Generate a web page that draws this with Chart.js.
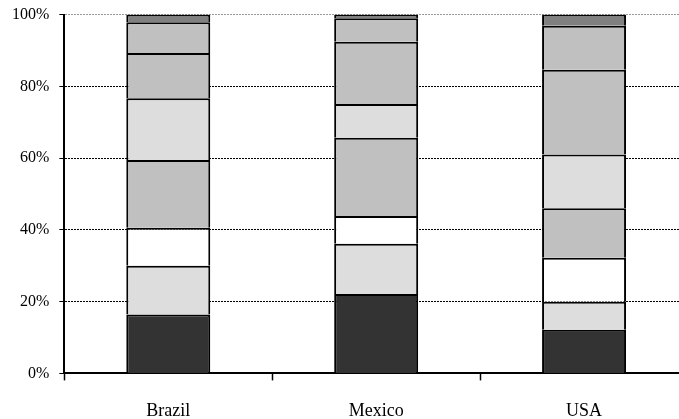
<!DOCTYPE html>
<html>
<head>
    <title>Stacked shares</title>
    <script src="https://cdn.jsdelivr.net/npm/chart.js"></script>
    <style>
        html, body { margin: 0; padding: 0; overflow: hidden; background: #fff; }
        #wrap { width: 700px; height: 447px; margin-top: -5px; position: relative; }
    </style>
</head>
<body>
    <div id="wrap">
        <canvas id="chart"></canvas>
    </div>

    <script>
        // Categories and segment shares (percent, bottom to top)
        const countries = ['Brazil', 'Mexico', 'USA'];
        const seg1 = [16.4, 22.1, 12.2];
        const seg2 = [13.6, 14.0, 7.8];
        const seg3 = [10.6, 7.8, 12.2];
        const seg4 = [18.9, 21.8, 13.8];
        const seg5 = [17.2, 9.4, 15.0];
        const seg6 = [12.6, 17.3, 23.6];
        const seg7 = [8.6, 6.6, 12.3];
        const seg8 = [2.1, 1.0, 3.1];
        const yTicks = [0, 20, 40, 60, 80, 100];

        const segments = [seg1, seg2, seg3, seg4, seg5, seg6, seg7, seg8];
        const fills = ['#333333', '#dddddd', '#ffffff', '#c0c0c0', '#dddddd', '#c0c0c0', '#c0c0c0', '#808080'];

        const datasets = segments.map((values, i) => ({
            label: 'Segment ' + (i + 1),
            data: values,
            backgroundColor: fills[i],
            borderColor: '#000000',
            borderWidth: 2,
            categoryPercentage: 1.0,
            barPercentage: 0.404
        }));

        const ctx = document.getElementById('chart').getContext('2d');
        new Chart(ctx, {
            type: 'bar',
            data: {
                labels: countries,
                datasets: datasets
            },
            options: {
                responsive: true,
                maintainAspectRatio: false,
                animation: false,
                layout: {
                    padding: { top: 9, left: 2, right: 12, bottom: 0 }
                },
                plugins: {
                    legend: { display: false },
                    tooltip: { enabled: false }
                },
                scales: {
                    x: {
                        stacked: true,
                        border: { color: '#000', width: 2 },
                        grid: {
                            drawOnChartArea: false,
                            drawTicks: true,
                            tickLength: 7,
                            tickColor: '#000',
                            tickWidth: 1.5
                        },
                        ticks: {
                            color: '#000',
                            padding: 20,
                            font: { family: 'Liberation Serif', size: 18 }
                        }
                    },
                    y: {
                        stacked: true,
                        min: 0,
                        max: 100,
                        afterBuildTicks: axis => {
                            axis.ticks = yTicks.map(v => ({ value: v }));
                        },
                        border: { color: '#000', width: 2, dash: [2, 1] },
                        grid: {
                            color: c => (c.tick && c.tick.value === 100) ? '#999999' : '#000000',
                            lineWidth: 1,
                            tickLength: 5,
                            tickColor: '#000',
                            tickBorderDash: []
                        },
                        ticks: {
                            color: '#000',
                            padding: 10,
                            font: { family: 'Liberation Serif', size: 16 },
                            callback: v => v + '%'
                        }
                    }
                }
            }
        });
    </script>
</body>
</html>
